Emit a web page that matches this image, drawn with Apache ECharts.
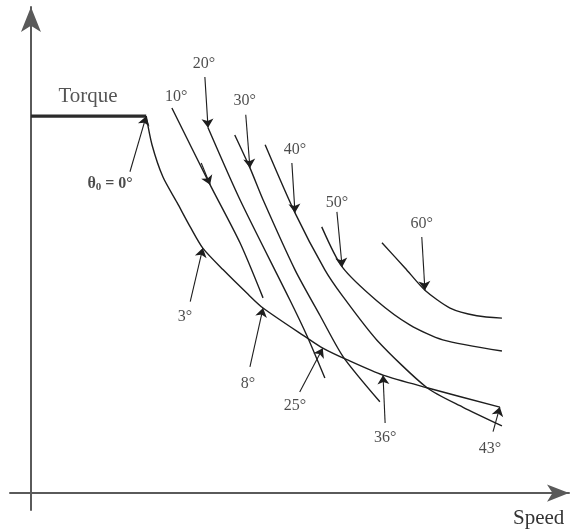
<!DOCTYPE html>
<html>
<head>
<meta charset="utf-8">
<script src="https://cdn.jsdelivr.net/npm/echarts@6/dist/echarts.min.js"></script>
<style>
  html, body { margin: 0; padding: 0; background: #fff; }
  #chart { width: 571px; height: 531px; }
</style>
</head>
<body>
<div id="chart"></div>
<script>
// Constant-torque region up to base speed
const torqueLevel = 78;
const baseSpeed = 22;

// Envelope of maximum torque (θ0 = 0° at base speed)
const envelopeSpeed  = [22, 23.1, 25.2, 27.9, 30.4, 32.8, 36.7, 41.2, 44.3, 52.7, 55.7, 60.3, 67.2, 75.6, 89.5];
const envelopeTorque = [78, 72.1, 65.4, 60.1, 55.1, 50.7, 46.2, 41.4, 38.3, 32.1, 30.0, 27.6, 24.4, 21.8, 17.8];

// Torque-speed curves for fixed advance angles
const speed10  = [26.9, 34.2, 39.9, 44.3];
const torque10 = [79.7, 63.8, 51.8, 40.4];

const speed20  = [33.8, 39.9, 49.4, 52.7, 56.1];
const torque20 = [75.6, 60.7, 40.0, 32.5, 23.8];

const speed30  = [38.9, 41.8, 44.3, 50.4, 55.2, 59.6, 66.6];
const torque30 = [74.1, 67.3, 60.7, 46.2, 36.7, 28.2, 18.9];

const speed40  = [44.7, 50.4, 56.1, 59.6, 66.0, 75.6, 82.4, 89.9];
const torque40 = [72.1, 58.0, 46.2, 40.6, 31.7, 21.8, 17.8, 13.9];

const speed50  = [55.5, 59.4, 66.0, 72.3, 78.6, 89.9];
const torque50 = [55.1, 46.8, 39.8, 34.8, 31.7, 29.4];

const speed60  = [67.0, 71.4, 75.2, 80.0, 85.1, 89.9];
const torque60 = [51.8, 46.6, 42.0, 38.3, 36.7, 36.2];

// Angle annotations: label text, label anchor, pointer start and pointer tip
const annotLabels  = ['θ0', '10°', '20°', '30°', '40°', '50°', '60°', '3°', '8°', '25°', '36°', '43°'];
const annotLabelX  = [15.1, 27.7, 33.0, 40.8, 50.4, 58.4, 74.6, 29.4, 41.4, 50.4, 67.6, 87.6];
const annotLabelY  = [64.0, 82.0, 88.8, 81.1, 71.0, 60.0, 55.7, 36.4, 22.6, 18.0, 11.4, 9.1];
const pointerFromX = [18.9, 32.5, 33.2, 41.0, 49.8, 58.4, 74.6, 30.4, 41.8, 51.3, 67.6, 88.2];
const pointerFromY = [66.5, 68.3, 86.1, 78.3, 68.3, 58.2, 53.0, 39.6, 26.1, 20.9, 14.5, 12.7];
const pointerToX   = [22.0, 34.2, 33.8, 41.8, 50.4, 59.4, 75.2, 32.8, 44.3, 55.7, 67.2, 89.5];
const pointerToY   = [78.0, 63.8, 75.6, 67.3, 58.0, 46.8, 42.0, 50.7, 38.3, 30.0, 24.4, 17.8];

const torqueLabel = 'Torque';
const torqueLabelPos = [10.9, 82.0];
const speedLabel = 'Speed';

const zip = (xs, ys) => xs.map((x, i) => [x, ys[i]]);

const ink = '#1e1e1e';
const serif = '"Liberation Serif", "DejaVu Serif", serif';

function curve(name, xs, ys) {
  return {
    name: name,
    type: 'line',
    data: zip(xs, ys),
    smooth: 0.25,
    showSymbol: false,
    symbol: 'none',
    lineStyle: { color: ink, width: 1.4 },
    silent: true,
    z: 3
  };
}

const pointerData = annotLabels.map((t, i) => ({
  coords: [[pointerFromX[i], pointerFromY[i]], [pointerToX[i], pointerToY[i]]]
}));

const labelData = annotLabels.map((t, i) => ({
  name: t,
  value: [annotLabelX[i], annotLabelY[i]]
}));

const chart = echarts.init(document.getElementById('chart'), null, { renderer: 'canvas' });

chart.setOption({
  animation: false,
  backgroundColor: '#ffffff',
  grid: { left: 10, right: 2, top: 7, bottom: 21, containLabel: false },
  xAxis: {
    type: 'value',
    min: -4,
    max: 102.7,
    name: speedLabel,
    nameLocation: 'end',
    nameGap: -56,
    nameTextStyle: {
      fontFamily: serif,
      fontSize: 21,
      color: '#333',
      verticalAlign: 'top',
      padding: [15, 0, 0, 0]
    },
    axisLine: {
      show: true,
      onZero: true,
      symbol: ['none', 'arrow'],
      symbolSize: [13, 22],
      lineStyle: { color: '#5a5a5a', width: 2 }
    },
    axisTick: { show: false },
    axisLabel: { show: false },
    splitLine: { show: false }
  },
  yAxis: {
    type: 'value',
    min: -3.5,
    max: 100.6,
    axisLine: {
      show: true,
      onZero: true,
      symbol: ['none', 'arrow'],
      symbolSize: [15, 25],
      lineStyle: { color: '#5a5a5a', width: 2 }
    },
    axisTick: { show: false },
    axisLabel: { show: false },
    splitLine: { show: false }
  },
  series: [
    {
      name: 'constant torque',
      type: 'line',
      data: [[0, torqueLevel], [baseSpeed, torqueLevel]],
      showSymbol: false,
      symbol: 'none',
      lineStyle: { color: '#2a2a2a', width: 3.2 },
      silent: true,
      z: 3
    },
    curve('envelope', envelopeSpeed, envelopeTorque),
    curve('10°', speed10, torque10),
    curve('20°', speed20, torque20),
    curve('30°', speed30, torque30),
    curve('40°', speed40, torque40),
    curve('50°', speed50, torque50),
    curve('60°', speed60, torque60),
    {
      name: 'pointers',
      type: 'lines',
      coordinateSystem: 'cartesian2d',
      data: pointerData,
      symbol: ['none', 'arrow'],
      symbolSize: [6, 9],
      lineStyle: { color: ink, width: 1.1, opacity: 1, curveness: 0 },
      silent: true,
      z: 4
    },
    {
      name: 'labels',
      type: 'scatter',
      data: labelData,
      symbolSize: 0,
      silent: true,
      label: {
        show: true,
        position: 'inside',
        fontFamily: serif,
        fontSize: 16,
        color: ink,
        formatter: p => p.name === 'θ0' ? '{t|θ}{s|0}{t| = 0°}' : p.name,
        rich: {
          t: { fontFamily: serif, fontSize: 16, fontWeight: 'bold', color: ink },
          s: { fontFamily: serif, fontSize: 11, fontWeight: 'bold', color: ink, verticalAlign: 'bottom', padding: [7, 0, 0, 0] }
        }
      },
      z: 5
    },
    {
      name: 'torque label',
      type: 'scatter',
      data: [{ name: torqueLabel, value: torqueLabelPos }],
      symbolSize: 0,
      silent: true,
      label: {
        show: true,
        position: 'inside',
        formatter: p => p.name,
        fontFamily: serif,
        fontSize: 21,
        color: '#2a2a2a'
      },
      z: 5
    }
  ]
});
</script>
</body>
</html>
